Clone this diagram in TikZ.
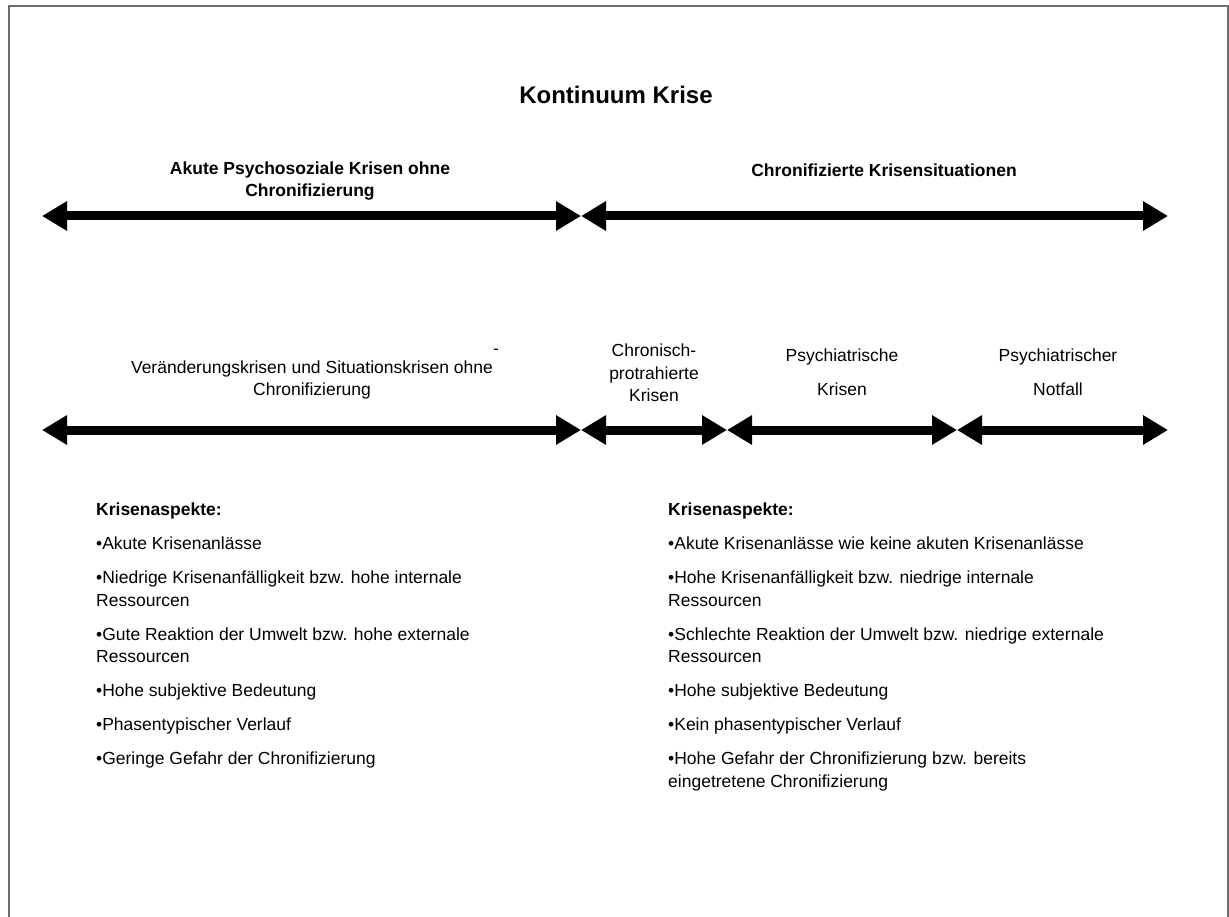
\documentclass[tikz,border=0pt]{standalone}
\usepackage{fontspec}
\setmainfont{Liberation Sans}
\usetikzlibrary{arrows.meta}
\definecolor{framegray}{HTML}{6e6e6e}

\begin{document}
\begin{tikzpicture}[x=1pt,y=-1pt,
  txt/.style={font=\fontsize{17.5}{22.5}\selectfont, align=center, inner sep=0pt},
  hdr/.style={txt, font=\bfseries\fontsize{17.5}{22.5}\selectfont},
  aspects/.style={txt, align=left, anchor=north west},
  span/.style={{Triangle[length=25pt,width=28pt]}-{Triangle[length=25pt,width=28pt]}, line width=9pt}]
\useasboundingbox (0,0) rectangle (1229,917);
% frame, open at the bottom
\draw[framegray, line width=1.5pt] (9,940) -- (9,6) -- (1228,6) -- (1228,940);

\node[font=\bfseries\fontsize{24}{28}\selectfont, inner sep=0pt] (title) at (616,95) {Kontinuum Krise};

% upper continuum
\node[hdr] (acute) at (310,181) {Akute Psychosoziale Krisen ohne\\Chronifizierung};
\node[hdr] (chronic) at (884,170) {Chronifizierte Krisensituationen};
\coordinate (u1) at (42,216);
\coordinate (u2) at (581,216);
\coordinate (u3) at (1168,216);
\draw[span] (u1) -- (u2);
\draw[span] (u2) -- (u3);

% lower continuum
\node[txt] (change) at (312,380) {Veränderungskrisen und Situationskrisen ohne\\Chronifizierung};
\node[txt] (dash) at (496,352) {-};
\node[txt] (protr) at (654,373) {Chronisch-\\protrahierte\\Krisen};
\node[txt] (psych) at (842,372) {Psychiatrische\\[11.5pt]Krisen};
\node[txt] (emerg) at (1058,372) {Psychiatrischer\\[11.5pt]Notfall};
\coordinate (l1) at (42,430);
\coordinate (l2) at (581,430);
\coordinate (l3) at (727,430);
\coordinate (l4) at (957,430);
\coordinate (l5) at (1168,430);
\draw[span] (l1) -- (l2);
\draw[span] (l2) -- (l3);
\draw[span] (l3) -- (l4);
\draw[span] (l4) -- (l5);

% aspects
\node[aspects] (aspL) at (96,503) {\textbf{Krisenaspekte:}\\[11.5pt]
  •Akute Krisenanlässe\\[11.5pt]
  •Niedrige Krisenanfälligkeit bzw. hohe internale\\Ressourcen\\[11.5pt]
  •Gute Reaktion der Umwelt bzw. hohe externale\\Ressourcen\\[11.5pt]
  •Hohe subjektive Bedeutung\\[11.5pt]
  •Phasentypischer Verlauf\\[11.5pt]
  •Geringe Gefahr der Chronifizierung};
\node[aspects] (aspR) at (668,503) {\textbf{Krisenaspekte:}\\[11.5pt]
  •Akute Krisenanlässe wie keine akuten Krisenanlässe\\[11.5pt]
  •Hohe Krisenanfälligkeit bzw. niedrige internale\\Ressourcen\\[11.5pt]
  •Schlechte Reaktion der Umwelt bzw. niedrige externale\\Ressourcen\\[11.5pt]
  •Hohe subjektive Bedeutung\\[11.5pt]
  •Kein phasentypischer Verlauf\\[11.5pt]
  •Hohe Gefahr der Chronifizierung bzw. bereits\\eingetretene Chronifizierung};
\end{tikzpicture}
\end{document}
